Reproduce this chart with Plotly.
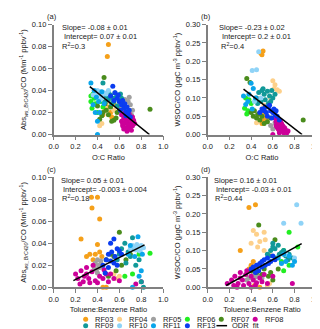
import plotly.graph_objects as go
from plotly.subplots import make_subplots

W, H = 320, 329
FUENTE = "Arial, Liberation Sans, sans-serif"

vuelos = ["RF03", "RF04", "RF05", "RF06", "RF07", "RF08", "RF09", "RF10", "RF11", "RF13"]
colores = {
    "RF03": "#F5A01A", "RF04": "#FDD08A", "RF05": "#A0A0A0", "RF06": "#22EE22",
    "RF07": "#4A8C1C", "RF08": "#CC0099", "RF09": "#119999", "RF10": "#8FD3F7",
    "RF11": "#0AA5EA", "RF13": "#0A3CF0",
}

# (a) O:C vs Abs/CO
oc_a = {
    "RF03": [0.50, 0.49, 0.47, 0.50, 0.52, 0.48, 0.55, 0.45, 0.53],
    "RF04": [0.42, 0.50, 0.47, 0.55, 0.44],
    "RF05": [0.62, 0.65, 0.68, 0.70, 0.66, 0.72, 0.64, 0.69, 0.60, 0.67, 0.71],
    "RF06": [0.34, 0.35, 0.37, 0.38, 0.34, 0.40, 0.36, 0.45, 0.43],
    "RF07": [0.46, 0.88, 0.42, 0.45, 0.55, 0.48, 0.50, 0.52, 0.40, 0.58, 0.44, 0.53, 0.57, 0.47, 0.60],
    "RF08": [0.62, 0.63, 0.64, 0.65, 0.66, 0.67, 0.68, 0.69, 0.70, 0.71, 0.72, 0.73, 0.64, 0.66, 0.68,
             0.70, 0.62, 0.65, 0.69, 0.72, 0.74, 0.67, 0.71, 0.63, 0.66],
    "RF09": [0.45, 0.48, 0.50, 0.52, 0.55, 0.57, 0.60, 0.62, 0.58, 0.53, 0.47, 0.56, 0.63, 0.50, 0.61, 0.54],
    "RF10": [0.38, 0.40, 0.42, 0.44, 0.46, 0.48, 0.43, 0.40, 0.36, 0.50],
    "RF11": [0.34, 0.40, 0.40, 0.42, 0.37, 0.39, 0.41, 0.44, 0.36, 0.46, 0.38],
    "RF13": [0.54, 0.52, 0.56, 0.58, 0.60, 0.62, 0.64, 0.66, 0.68, 0.70, 0.59, 0.63, 0.65, 0.67, 0.61,
             0.69, 0.66, 0.55],
}
abs_a = {
    "RF03": [0.082, 0.071, 0.022, 0.025, 0.020, 0.030, 0.028, 0.018, 0.016],
    "RF04": [0.008, 0.030, 0.025, 0.022, 0.010],
    "RF05": [0.030, 0.032, 0.030, 0.027, 0.025, 0.022, 0.028, 0.034, 0.025, 0.020, 0.018],
    "RF06": [0.030, 0.024, 0.033, 0.028, 0.035, 0.020, 0.037, 0.025, 0.030],
    "RF07": [0.052, 0.023, 0.014, 0.020, 0.013, 0.022, 0.018, 0.025, 0.026, 0.020, 0.017, 0.012, 0.015, 0.028, 0.022],
    "RF08": [0.012, 0.008, 0.015, 0.010, 0.006, 0.012, 0.009, 0.014, 0.007, 0.011, 0.008, 0.013, 0.005, 0.017, 0.005,
             0.016, 0.018, 0.020, 0.019, 0.016, 0.010, 0.003, 0.004, 0.010, 0.013],
    "RF09": [0.047, 0.035, 0.032, 0.036, 0.030, 0.034, 0.030, 0.033, 0.026, 0.028, 0.030, 0.038, 0.027, 0.038, 0.037, 0.033],
    "RF10": [0.038, 0.036, 0.039, 0.035, 0.038, 0.037, 0.032, 0.040, 0.036, 0.040],
    "RF11": [0.047, 0.000, 0.012, 0.020, 0.040, 0.034, 0.030, 0.039, 0.027, 0.028, 0.020],
    "RF13": [0.044, 0.035, 0.038, 0.033, 0.030, 0.027, 0.024, 0.021, 0.019, 0.016, 0.036, 0.031, 0.028, 0.025, 0.022,
             0.022, 0.017, 0.031],
}

# (b) O:C vs WSOC/CO
oc_b = {
    "RF03": [0.49, 0.51, 0.50, 0.52, 0.53, 0.51, 0.50, 0.52, 0.54],
    "RF04": [0.60, 0.62, 0.64, 0.66, 0.58, 0.45, 0.48, 0.61, 0.52],
    "RF05": [0.62, 0.60, 0.64, 0.58],
    "RF06": [0.35, 0.38, 0.34, 0.36, 0.40, 0.37],
    "RF07": [0.36, 0.39, 0.88, 0.42, 0.45, 0.48, 0.40, 0.55, 0.50, 0.43, 0.58, 0.46, 0.52],
    "RF08": [0.60, 0.62, 0.63, 0.64, 0.65, 0.66, 0.67, 0.68, 0.69, 0.70, 0.71, 0.72, 0.64, 0.66, 0.68,
             0.70, 0.73, 0.67, 0.65, 0.69, 0.63, 0.71, 0.66, 0.74],
    "RF09": [0.45, 0.47, 0.50, 0.52, 0.55, 0.57, 0.59, 0.53, 0.49, 0.56, 0.60, 0.51, 0.58, 0.46, 0.62],
    "RF10": [0.41, 0.45, 0.47, 0.49, 0.43],
    "RF11": [0.33, 0.40, 0.42, 0.35, 0.38, 0.41, 0.37, 0.44],
    "RF13": [0.50, 0.52, 0.54, 0.56, 0.58, 0.60, 0.62, 0.64, 0.57, 0.55, 0.61, 0.63, 0.59, 0.53, 0.48, 0.66],
}
wsoc_b = {
    "RF03": [0.222, 0.228, 0.218, 0.060, 0.050, 0.040, 0.030, 0.070, 0.045],
    "RF04": [0.147, 0.136, 0.122, 0.118, 0.100, 0.032, 0.060, 0.125, 0.080],
    "RF05": [0.032, 0.015, 0.020, 0.025],
    "RF06": [0.100, 0.095, 0.072, 0.056, 0.085, 0.065],
    "RF07": [0.153, 0.142, 0.040, 0.050, 0.045, 0.040, 0.060, 0.035, 0.050, 0.065, 0.045, 0.055, 0.030],
    "RF08": [0.000, 0.045, 0.035, 0.040, 0.030, 0.025, 0.020, 0.015, 0.010, 0.020, 0.008, 0.012, 0.020, 0.010, 0.030,
             0.005, 0.005, 0.038, 0.015, 0.025, 0.025, 0.018, 0.005, 0.010],
    "RF09": [0.100, 0.115, 0.120, 0.110, 0.118, 0.105, 0.120, 0.095, 0.090, 0.085, 0.100, 0.125, 0.090, 0.085, 0.110],
    "RF10": [0.175, 0.177, 0.226, 0.100, 0.090],
    "RF11": [0.105, 0.140, 0.126, 0.082, 0.110, 0.070, 0.090, 0.100],
    "RF13": [0.070, 0.065, 0.060, 0.075, 0.065, 0.060, 0.055, 0.050, 0.080, 0.050, 0.070, 0.065, 0.045, 0.075, 0.060, 0.040],
}

# (c) Toluene:Benzene vs Abs/CO
tb_c = {
    "RF03": [0.345, 0.40, 0.35, 0.42, 0.25, 0.40, 0.30, 0.33, 0.38, 0.42, 0.36, 0.45, 0.48, 0.44],
    "RF04": [0.60, 0.58, 0.55],
    "RF05": [0.38, 0.40, 0.42, 0.39, 0.41, 0.43, 0.37, 0.40, 0.44],
    "RF06": [0.88, 0.65, 0.72, 0.78],
    "RF07": [0.60, 0.52, 0.55, 0.48, 0.57, 0.62, 0.50, 0.66, 0.70],
    "RF08": [0.20, 0.22, 0.25, 0.28, 0.30, 0.32, 0.35, 0.27, 0.33, 0.38, 0.42, 0.45, 0.48, 0.50, 0.30,
             0.36, 0.40, 0.55, 0.80, 0.75, 0.24, 0.46, 0.52, 0.60],
    "RF09": [0.65, 0.72, 0.60, 0.62, 0.68, 0.70, 0.75, 0.80, 0.82, 0.66, 0.58, 0.73, 0.78],
    "RF10": [0.72, 0.74, 0.76, 0.78, 0.80, 0.82, 0.75, 0.79, 0.70],
    "RF11": [0.77, 0.70, 0.72, 0.78, 0.80, 0.68, 0.74, 0.81],
    "RF13": [0.55, 0.52, 0.58, 0.50, 0.48, 0.53, 0.56, 0.60, 0.45, 0.50, 0.55, 0.62, 0.47, 0.58, 0.52],
}
abs_c = {
    "RF03": [0.082, 0.082, 0.072, 0.062, 0.044, 0.039, 0.028, 0.030, 0.030, 0.032, 0.025, 0.000, 0.000, 0.028],
    "RF04": [0.010, 0.008, 0.012],
    "RF05": [0.022, 0.025, 0.018, 0.016, 0.020, 0.024, 0.018, 0.013, 0.020],
    "RF06": [0.031, 0.010, 0.012, 0.030],
    "RF07": [0.050, 0.030, 0.028, 0.025, 0.015, 0.020, 0.010, 0.025, 0.030],
    "RF08": [0.012, 0.008, 0.015, 0.010, 0.012, 0.008, 0.014, 0.005, 0.004, 0.006, 0.010, 0.008, 0.012, 0.005, 0.018,
             0.020, 0.004, 0.008, 0.005, 0.003, 0.003, 0.016, 0.012, 0.006],
    "RF09": [0.040, 0.045, 0.030, 0.035, 0.032, 0.028, 0.020, 0.005, 0.000, 0.022, 0.025, 0.035, 0.025],
    "RF10": [0.038, 0.036, 0.039, 0.037, 0.038, 0.036, 0.034, 0.033, 0.035],
    "RF11": [0.046, 0.038, 0.000, 0.010, 0.015, 0.030, 0.028, 0.030],
    "RF13": [0.044, 0.040, 0.035, 0.030, 0.025, 0.032, 0.028, 0.033, 0.020, 0.018, 0.022, 0.030, 0.013, 0.020, 0.024],
}

# (d) Toluene:Benzene vs WSOC/CO
tb_d = {
    "RF03": [0.38, 0.44, 0.30, 0.40, 0.45, 0.43, 0.48, 0.43, 0.38, 0.42],
    "RF04": [0.42, 0.45, 0.52, 0.53, 0.40, 0.46, 0.52, 0.57, 0.57, 0.55, 0.42, 0.48],
    "RF05": [0.38, 0.40, 0.42, 0.44, 0.46, 0.48, 0.50, 0.36],
    "RF06": [0.83, 0.75, 0.70, 0.75, 0.70, 0.68],
    "RF07": [0.47, 0.62, 0.45, 0.56, 0.60, 0.40, 0.52, 0.58, 0.65, 0.50],
    "RF08": [0.18, 0.22, 0.25, 0.28, 0.30, 0.32, 0.35, 0.38, 0.40, 0.42, 0.45, 0.48, 0.50, 0.27, 0.33,
             0.36, 0.55, 0.78, 0.60, 0.24, 0.30, 0.44, 0.52, 0.40],
    "RF09": [0.55, 0.58, 0.60, 0.62, 0.65, 0.68, 0.70, 0.72, 0.75, 0.63, 0.57, 0.66, 0.74, 0.60, 0.78],
    "RF10": [0.82, 0.86, 0.70, 0.80, 0.72],
    "RF11": [0.65, 0.70, 0.72, 0.75, 0.78, 0.68, 0.80],
    "RF13": [0.40, 0.42, 0.45, 0.48, 0.50, 0.52, 0.55, 0.58, 0.60, 0.47, 0.53, 0.56, 0.44, 0.62, 0.50],
}
wsoc_d = {
    "RF03": [0.218, 0.225, 0.100, 0.060, 0.055, 0.040, 0.000, 0.005, 0.050, 0.070],
    "RF04": [0.155, 0.145, 0.150, 0.130, 0.120, 0.110, 0.100, 0.090, 0.010, 0.005, 0.045, 0.125],
    "RF05": [0.025, 0.030, 0.035, 0.028, 0.032, 0.030, 0.025, 0.020],
    "RF06": [0.110, 0.150, 0.100, 0.060, 0.045, 0.070],
    "RF07": [0.170, 0.130, 0.040, 0.030, 0.020, 0.045, 0.050, 0.040, 0.050, 0.035],
    "RF08": [0.010, 0.020, 0.030, 0.010, 0.040, 0.020, 0.035, 0.010, 0.030, 0.020, 0.012, 0.025, 0.015, 0.000, 0.005,
             0.045, 0.010, 0.010, 0.030, 0.005, 0.025, 0.005, 0.035, 0.000],
    "RF09": [0.090, 0.100, 0.110, 0.105, 0.115, 0.095, 0.100, 0.085, 0.090, 0.080, 0.085, 0.090, 0.075, 0.120, 0.080],
    "RF10": [0.225, 0.175, 0.175, 0.080, 0.090],
    "RF11": [0.080, 0.090, 0.070, 0.085, 0.060, 0.065, 0.070],
    "RF13": [0.050, 0.055, 0.060, 0.065, 0.070, 0.075, 0.080, 0.070, 0.085, 0.045, 0.060, 0.065, 0.040, 0.075, 0.055],
}

# ajuste ODR: pendiente, intercepto, x inicial, x final
ajustes = {
    "a": (-0.08, 0.07, 0.33, 0.875),
    "b": (-0.23, 0.20, 0.33, 0.87),
    "c": (0.05, -0.003, 0.18, 0.83),
    "d": (0.164, -0.023, 0.17, 0.866),
}
textos = {
    "a": ["Slope= -0.08 ± 0.01", "Intercept= 0.07 ± 0.01", "R<sup>2</sup>=0.3"],
    "b": ["Slope= -0.23 ± 0.02", "Intercept= 0.2 ± 0.01", "R<sup>2</sup>=0.4"],
    "c": ["Slope= 0.05 ± 0.01", "Intercept= -0.003 ± 0.004", "R<sup>2</sup>=0.18"],
    "d": ["Slope= 0.16 ± 0.01", "Intercept= -0.03 ± 0.01", "R<sup>2</sup>=0.44"],
}

paneles = [
    ("a", 1, 1, oc_a, abs_a),
    ("b", 1, 2, oc_b, wsoc_b),
    ("c", 2, 1, tb_c, abs_c),
    ("d", 2, 2, tb_d, wsoc_d),
]

fig = make_subplots(rows=2, cols=2)

for clave, fila, col, xs, ys in paneles:
    for v in vuelos:
        fig.add_trace(go.Scatter(x=xs[v], y=ys[v], mode="markers", name=v, showlegend=False,
                                 cliponaxis=False,
                                 marker=dict(color=colores[v], size=5, line=dict(width=0))),
                      row=fila, col=col)
    m, b, x0, x1 = ajustes[clave]
    fig.add_trace(go.Scatter(x=[x0, x1], y=[m * x0 + b, m * x1 + b], mode="lines", showlegend=False,
                             cliponaxis=False, line=dict(color="black", width=1.5)),
                  row=fila, col=col)

# dominios en pixeles
def px(x):
    return x / W

def py(y):
    return 1 - y / H

ejes = {
    (1, 1): ([42, 155], [13, 126]),
    (1, 2): ([201, 313], [13, 126]),
    (2, 1): ([42, 155], [170, 283]),
    (2, 2): ([201, 313], [170, 283]),
}
titulos_y = {
    1: "Abs<sub><i>ws_BrC420</i></sub>/CO (Mm<sup>-1</sup> ppbv<sup>-1</sup>)",
    2: "WSOC/CO (µgC m<sup>-3</sup> ppbv<sup>-1</sup>)",
}
titulos_x = {1: "O:C Ratio", 2: "Toluene:Benzene Ratio"}

def letra():
    return dict(size=7.5, color="#1a1a1a", family=FUENTE)

comun = dict(showline=True, linecolor="#808080", linewidth=1.5, ticks="outside", ticklen=4,
             tickwidth=1, tickcolor="#808080", showgrid=False, zeroline=False)

for (fila, col), (dx, dy) in ejes.items():
    fig.update_xaxes(domain=[px(dx[0]), px(dx[1])], range=[0, 1], dtick=0.2, tickformat=".1f",
                     tickfont=letra(),
                     title=dict(text=titulos_x[fila], standoff=4, font=letra()),
                     row=fila, col=col, **comun)
    if col == 1:
        yr, ydt = [0, 0.1], 0.02
    else:
        yr, ydt = [0, 0.3], 0.05
    fig.update_yaxes(domain=[py(dy[1]), py(dy[0])], range=yr, dtick=ydt, tickformat=".2f",
                     tickfont=letra(),
                     title=dict(text=titulos_y[col], standoff=4, font=letra()),
                     row=fila, col=col, **comun)

# eje oculto en pixeles para etiquetas y leyenda
fig.add_trace(go.Scatter(x=[75 + 35 * i for i in range(6)] + [75 + 35 * i for i in range(4)],
                         y=[316] * 6 + [322.5] * 4, mode="markers", showlegend=False,
                         marker=dict(color=[colores[v] for v in vuelos], size=5),
                         xaxis="x5", yaxis="y5"))
fig.add_trace(go.Scatter(x=[75 + 35 * 4 - 5, 75 + 35 * 4 + 6], y=[322.5, 322.5], mode="lines",
                         showlegend=False, line=dict(color="black", width=1.5),
                         xaxis="x5", yaxis="y5"))
fig.update_layout(
    xaxis5=dict(domain=[0, 1], range=[0, W], visible=False, fixedrange=True, anchor="y5"),
    yaxis5=dict(domain=[0, 1], range=[H, 0], visible=False, fixedrange=True, anchor="x5"),
)

anotaciones = []
for i, v in enumerate(vuelos):
    anotaciones.append(dict(x=75 + 35 * (i % 6) + 8, y=316 + 6.5 * (i // 6), text=v, showarrow=False,
                            xanchor="left", yanchor="middle", xref="x5", yref="y5", font=letra()))
anotaciones.append(dict(x=75 + 35 * 4 + 9, y=322.5, text="ODR_fit", showarrow=False,
                        xanchor="left", yanchor="middle", xref="x5", yref="y5", font=letra()))

etiquetas = {"a": (40, 5), "b": (199, 5), "c": (40, 162), "d": (199, 162)}
pos_texto = {
    "a": [(48, 16), (51, 25), (49, 35)],
    "b": [(211, 16), (214, 25), (213, 35)],
    "c": [(47, 173), (50, 182), (49, 191)],
    "d": [(205, 173), (207, 182), (206, 191)],
}
for clave, (lx, ly) in etiquetas.items():
    anotaciones.append(dict(x=lx, y=ly, text="(" + clave + ")", showarrow=False, xanchor="center",
                            yanchor="middle", xref="x5", yref="y5", font=letra()))
    for t, (tx, ty) in zip(textos[clave], pos_texto[clave]):
        anotaciones.append(dict(x=tx, y=ty, text=t, showarrow=False, xanchor="left", yanchor="middle",
                                xref="x5", yref="y5", font=letra()))

fig.update_layout(
    width=W, height=H,
    margin=dict(l=0, r=0, t=0, b=0),
    paper_bgcolor="white", plot_bgcolor="rgba(0,0,0,0)",
    font=dict(family=FUENTE, size=7.5, color="#1a1a1a"),
    annotations=anotaciones,
    showlegend=False,
)

fig.write_html("out.html")
